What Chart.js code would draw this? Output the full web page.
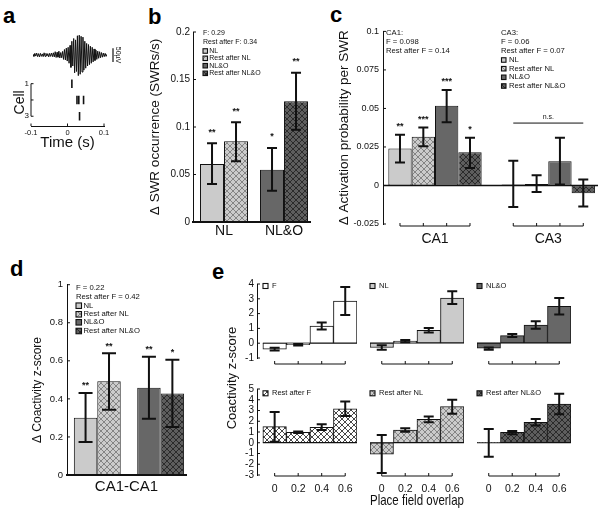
<!DOCTYPE html>
<html lang="en">
<head>
<meta charset="utf-8">
<title>SWR figure</title>
<script src="https://cdn.jsdelivr.net/npm/chart.js@4.4.1/dist/chart.umd.min.js"></script>
<style>
  html, body { margin: 0; padding: 0; background: #fff; }
  body { position: relative; width: 600px; height: 509px; overflow: hidden; }
  .tag { position: absolute; font: bold 22px/22px "Liberation Sans", Arial, sans-serif; color: #000; }
</style>
</head>
<body>
<div class="tag" style="left:3px;top:5px">a</div>
<div class="tag" style="left:148px;top:6px">b</div>
<div class="tag" style="left:330px;top:4px">c</div>
<div class="tag" style="left:10px;top:258px">d</div>
<div class="tag" style="left:212px;top:261px">e</div>
<script>
// ---- a: ripple trace (uV) and spike raster ----
const lfpStart = -0.1;   // s
const lfpStep = 0.0025;  // s between samples
const lfpUv = [
  2, -5, 6, -4, 7, -6, 5, -7, 6, -5, 4, -6, 8, -5, 6, -4, 5, -7, 6, -5, 7,
  -6, 8, -7, 12, -9, 10, -8, 14, -11, 9, -10, 13,
  -16, 20, -18, 25, -22, 28, -30, 35,
  -45, 50, -40, 60, -65, 55, -60, 70,
  -75, 72, -70, 68, -62, 65, -55, 50,
  -48, 42, -40, 38, -35, 32, -30, 28,
  -25, 22, -20, 18, -16, 14, -12, 12,
  -10, 9, -8, 7, -6, 6, -5, 3
];
const spikeCell = [1, 2, 2, 2, 3];
const spikeTime = [0.012, 0.026, 0.031, 0.044, 0.033];
const timeTicks = [-0.1, 0, 0.1];
const cellTicks = [1, 2, 3];

// ---- b: SWR occurrence ----
const condNames = ['NL', 'Rest after NL', 'NL&O', 'Rest after NL&O'];
const bGroups = ['NL', 'NL&O'];
const bMean = [0.061, 0.085, 0.055, 0.127];
const bLow = [0.040, 0.064, 0.033, 0.097];
const bHigh = [0.083, 0.105, 0.078, 0.157];
const bStars = ['**', '**', '*', '**'];
const bNotes = ['F: 0.29', 'Rest after F: 0.34'];
const bTicks = [0, 0.05, 0.1, 0.15, 0.2];

// ---- c: activation probability ----
const cGroups = ['CA1', 'CA3'];
const cMeanCA1 = [0.024, 0.0317, 0.0517, 0.0216];
const cLowCA1 = [0.0149, 0.0254, 0.041, 0.0114];
const cHighCA1 = [0.033, 0.0377, 0.062, 0.031];
const cStarsCA1 = ['**', '***', '***', '*'];
const cMeanCA3 = [0.0006, 0.001, 0.0157, -0.005];
const cLowCA3 = [-0.014, -0.0043, 0.0006, -0.0136];
const cHighCA3 = [0.016, 0.0066, 0.031, 0.0038];
const cNotesCA1 = ['CA1:', 'F = 0.098', 'Rest after F = 0.14'];
const cNotesCA3 = ['CA3:', 'F = 0.06', 'Rest after F = 0.07'];
const cTicks = [-0.025, 0, 0.025, 0.05, 0.075, 0.1];
const cNsLevel = 0.0405;

// ---- d: coactivity ----
const dMean = [0.301, 0.492, 0.459, 0.428];
const dLow = [0.174, 0.343, 0.296, 0.252];
const dHigh = [0.431, 0.640, 0.621, 0.605];
const dStars = ['**', '**', '**', '*'];
const dNotes = ['F = 0.22', 'Rest after F = 0.42'];
const dTicks = [0, 0.2, 0.4, 0.6, 0.8, 1];

// ---- e: coactivity vs place field overlap ----
const overlap = [0, 0.2, 0.4, 0.6];
const overlapLabels = ['0', '0.2', '0.4', '0.6'];
const eTopTicks = [-1, 0, 1, 2, 3, 4];
const eBottomTicks = [-3, -2, -1, 0, 1, 2, 3, 4, 5];
const eF = [-0.4, -0.1, 1.15, 2.85];
const eFLow = [-0.5, -0.15, 0.93, 1.9];
const eFHigh = [-0.3, -0.05, 1.4, 3.8];
const eNL = [-0.3, 0.12, 0.85, 3.0];
const eNLLow = [-0.45, 0.05, 0.7, 2.6];
const eNLHigh = [-0.15, 0.2, 1.0, 3.45];
const eNLO = [-0.35, 0.49, 1.2, 2.45];
const eNLOLow = [-0.45, 0.4, 0.95, 1.9];
const eNLOHigh = [-0.3, 0.6, 1.45, 3.0];
const eRestF = [1.5, 0.97, 1.44, 3.16];
const eRestFLow = [0.1, 0.9, 1.19, 2.5];
const eRestFHigh = [2.85, 1.05, 1.72, 3.84];
const eRestNL = [-1.06, 1.19, 2.19, 3.37];
const eRestNLLow = [-2.81, 1.03, 1.9, 2.69];
const eRestNLHigh = [0.72, 1.34, 2.44, 4.0];
const eRestNLO = [0.02, 0.97, 1.9, 3.6];
const eRestNLOLow = [-1.3, 0.78, 1.6, 2.66];
const eRestNLOHigh = [1.28, 1.1, 2.2, 4.56];

const FN = '"Liberation Sans Narrow", "Liberation Sans", Arial, sans-serif';
const FR = '"Liberation Sans", Arial, sans-serif';
const INK = '#111';

// crosshatch fill
function hatch(bg, fg) {
  const t = document.createElement('canvas');
  t.width = 6; t.height = 6;
  const g = t.getContext('2d');
  g.fillStyle = bg; g.fillRect(0, 0, 6, 6);
  g.strokeStyle = fg; g.lineWidth = 0.9;
  g.beginPath();
  g.moveTo(-1, -1); g.lineTo(7, 7);
  g.moveTo(7, -1); g.lineTo(-1, 7);
  g.stroke();
  return g.createPattern(t, 'repeat');
}
const LIGHT = '#cbcbcb', DARK = '#676767';
const fillF = '#ffffff', fillRestF = hatch('#ffffff', '#333');
const fillNL = LIGHT, fillRestNL = hatch(LIGHT, '#7c7c7c');
const fillNLO = DARK, fillRestNLO = hatch('#5e5e5e', '#262626');
const condFills = [fillNL, fillRestNL, fillNLO, fillRestNLO];
const pairOrder = [[0, 2], [1, 3]]; // plain bars, then the rest bars

function seg(ctx, x0, y0, x1, y1) { ctx.moveTo(x0, y0); ctx.lineTo(x1, y1); }

// error bars, stars, brackets, legends, inward ticks
function deco(spec) {
  return {
    id: 'deco',
    beforeDatasetsDraw(chart) {
      if (!spec.zero) return;
      const { ctx, chartArea: a, scales: { y } } = chart;
      const yy = y.getPixelForValue(0);
      let x0 = a.left, x1 = a.right;
      if (spec.zeroBars) {
        const bars = chart.getDatasetMeta(0).data;
        x0 = bars[0].x - bars[0].width / 2;
        x1 = bars[bars.length - 1].x + bars[bars.length - 1].width / 2;
      }
      ctx.save();
      ctx.strokeStyle = INK; ctx.lineWidth = spec.zero;
      ctx.beginPath(); seg(ctx, x0, yy, x1, yy); ctx.stroke();
      ctx.restore();
    },
    afterDatasetsDraw(chart) {
      const { ctx, chartArea: a, scales: { x, y } } = chart;
      ctx.save();
      ctx.strokeStyle = INK; ctx.fillStyle = INK;
      ctx.textAlign = 'center'; ctx.textBaseline = 'middle';

      (spec.err || []).forEach(e => {
        chart.getDatasetMeta(e.ds).data.forEach((bar, j) => {
          const hi = y.getPixelForValue(e.hi[j]), lo = y.getPixelForValue(e.lo[j]);
          ctx.lineWidth = 2;
          ctx.beginPath();
          seg(ctx, bar.x, hi, bar.x, lo);
          seg(ctx, bar.x - spec.cap, hi, bar.x + spec.cap, hi);
          seg(ctx, bar.x - spec.cap, lo, bar.x + spec.cap, lo);
          ctx.stroke();
          if (e.stars && e.stars[j]) {
            ctx.font = `bold 9px ${FR}`;
            ctx.fillText(e.stars[j], bar.x, hi - (spec.starGap || 8));
          }
        });
      });

      if (spec.bracket) {
        const metas = chart.data.datasets.map((d, i) => chart.getDatasetMeta(i).data);
        const groups = spec.bracket.byIndex
          ? metas[0].map((b, j) => metas.map(m => m[j].x))
          : [metas[0].map(b => b.x)];
        const yb = a.bottom + spec.bracket.gap;
        ctx.lineWidth = 1;
        ctx.beginPath();
        groups.forEach(xs => {
          seg(ctx, Math.min(...xs), yb, Math.max(...xs), yb);
          xs.forEach(xx => seg(ctx, xx, yb, xx, yb - 3));
        });
        ctx.stroke();
      }

      ctx.lineWidth = 1;
      ctx.beginPath();
      if (spec.yIn) y.ticks.forEach(t => { const p = y.getPixelForValue(t.value); seg(ctx, a.left, p, a.left + spec.yIn, p); });
      if (spec.xIn) x.ticks.forEach(t => { const p = x.getPixelForValue(t.value); seg(ctx, p, a.bottom, p, a.bottom - spec.xIn); });
      ctx.stroke();

      ctx.textAlign = 'left';
      (spec.notes || []).forEach(n => {
        ctx.font = `${n.size}px ${FR}`;
        n.lines.forEach((t, i) => ctx.fillText(t, n.x - spec.ox, n.y[i] - spec.oy));
      });

      if (spec.legend) {
        const L = spec.legend;
        ctx.font = `${L.fs}px ${FR}`;
        L.items.forEach((it, i) => {
          const lx = L.x - spec.ox, ly = L.y[i] - spec.oy;
          ctx.fillStyle = it.fill;
          ctx.fillRect(lx, ly - L.size / 2, L.size, L.size);
          ctx.lineWidth = 1.1;
          ctx.strokeRect(lx, ly - L.size / 2, L.size, L.size);
          ctx.fillStyle = INK;
          ctx.fillText(it.label, lx + L.size + L.gap, ly);
        });
      }

      if (spec.sideTitle) {
        const s = spec.sideTitle;
        ctx.fillStyle = INK;
        ctx.font = `${s.size}px ${FR}`;
        ctx.textAlign = 'center';
        ctx.translate(s.cx - spec.ox, s.cy - spec.oy);
        ctx.rotate(-Math.PI / 2);
        ctx.fillText(s.text, 0, 0);
        ctx.setTransform(1, 0, 0, 1, 0, 0);
      }

      if (spec.extra) spec.extra(ctx, chart);
      ctx.restore();
    }
  };
}

function axis(o) {
  return {
    type: 'linear', min: o.min, max: o.max, reverse: !!o.reverse, offset: false,
    afterBuildTicks: s => { s.ticks = o.ticks.map(v => ({ value: v })); },
    grid: { display: false, drawTicks: false, tickLength: 0 },
    border: { display: !!o.line, color: INK, width: o.line || 1 },
    ticks: {
      display: !!o.labels, autoSkip: false, maxRotation: 0, minRotation: 0,
      color: INK, padding: o.pad || 0,
      font: { family: FN, size: o.fs || 10 },
      callback: (v, i) => (o.labels ? o.labels[i] : '')
    },
    title: { display: false }
  };
}

// area = wanted chart area on the page, m = room around it for axes
function build(area, m, type, datasets, xs, ys, spec) {
  const w = area.r - area.l + m.l + m.r, h = area.b - area.t + m.t + m.b;
  const ox = area.l - m.l, oy = area.t - m.t;
  const cv = document.createElement('canvas');
  cv.width = w; cv.height = h;
  cv.style.cssText = `position:absolute;left:${ox}px;top:${oy}px;width:${w}px;height:${h}px`;
  document.body.appendChild(cv);
  spec.ox = ox; spec.oy = oy;
  xs.afterFit = s => { s.height = m.b; };
  ys.afterFit = s => { s.width = m.l; };
  if (spec.yTitle) {
    const t = spec.yTitle;
    ys.title = { display: true, text: t.text, color: INK, font: { family: FR, size: t.size },
      padding: { top: t.cx - ox - t.size * 0.6, bottom: 0 } };
  }
  if (spec.xTitle) {
    const t = spec.xTitle;
    xs.title = { display: true, text: t.text, color: INK, font: { family: t.family || FR, size: t.size },
      padding: { top: 0, bottom: area.b + m.b - t.cy - t.size * 0.6 } };
  }
  return new Chart(cv, {
    type,
    data: { datasets },
    options: {
      responsive: false, animation: false, devicePixelRatio: 1, events: [],
      layout: { padding: { left: 0, top: m.t, right: m.r, bottom: 0 } },
      plugins: { legend: { display: false }, tooltip: { enabled: false } },
      scales: { x: xs, y: ys }
    },
    plugins: [deco(spec)]
  });
}

function barSet(points, fills, catPct) {
  return { data: points, backgroundColor: fills, borderColor: INK, borderWidth: 1,
    borderSkipped: false, categoryPercentage: catPct, barPercentage: 1 };
}
const condLegend = condNames.map((n, k) => ({ label: n, fill: condFills[k] }));

// a: trace
build({ l: 33, t: 33, r: 107, b: 77 }, { l: 2, t: 2, r: 16, b: 2 }, 'line',
  [{ data: lfpUv.map((v, i) => ({ x: lfpStart + i * lfpStep, y: v })),
     borderColor: INK, borderWidth: 1, pointRadius: 0, tension: 0, fill: false }],
  axis({ min: -0.1, max: 0.1, ticks: [-0.1, 0.1] }),
  axis({ min: -80, max: 80, ticks: [-80, 80] }),
  { extra(ctx, chart) {
      const { chartArea: a, scales: { y } } = chart;
      const xb = a.right + 6;
      ctx.lineWidth = 1.2;
      ctx.beginPath(); seg(ctx, xb, y.getPixelForValue(-25), xb, y.getPixelForValue(25)); ctx.stroke();
      ctx.translate(xb + 4.5, y.getPixelForValue(0));
      ctx.rotate(Math.PI / 2);
      ctx.font = `7px ${FR}`; ctx.textAlign = 'center';
      ctx.fillText('50µV', 0, 0);
    } });

// a: raster
build({ l: 31, t: 76, r: 104, b: 126 }, { l: 20, t: 4, r: 8, b: 27 }, 'scatter',
  [{ data: spikeTime.map((t, i) => ({ x: t, y: spikeCell[i] })), pointStyle: 'line', rotation: 90,
     pointRadius: 4.2, borderColor: INK, backgroundColor: INK, borderWidth: 1.6 }],
  axis({ min: -0.1, max: 0.1, ticks: timeTicks, labels: timeTicks.map(String), fs: 7.5, pad: 2, line: 1 }),
  axis({ min: 0.7, max: 3.6, reverse: true, ticks: cellTicks,
         labels: cellTicks.map(v => (v === 2 ? '' : String(v))), fs: 8, pad: 2 }),
  { yTitle: { text: 'Cell', size: 14, cx: 20 }, xTitle: { text: 'Time (s)', size: 15, cy: 143, family: FN },
    yIn: 2.5, xIn: 2.5,
    extra(ctx, chart) {
      const { chartArea: a, scales: { y } } = chart;
      ctx.lineWidth = 1;
      ctx.beginPath(); seg(ctx, a.left, y.getPixelForValue(1), a.left, y.getPixelForValue(3)); ctx.stroke();
    } });

// b
build({ l: 193, t: 31, r: 310, b: 222 }, { l: 50, t: 8, r: 4, b: 22 }, 'bar',
  pairOrder.map(p => barSet(p.map((k, j) => ({ x: j + 1, y: bMean[k] })), p.map(k => condFills[k]), 0.8)),
  axis({ min: 0.483, max: 2.433, ticks: [1, 2], labels: bGroups, fs: 14, pad: 1, line: 2 }),
  axis({ min: 0, max: 0.2, ticks: bTicks, labels: bTicks.map(String), fs: 10, pad: 3, line: 1 }),
  { yTitle: { text: 'Δ SWR occurrence (SWRs/s)', size: 13.5, cx: 155 }, cap: 5, yIn: 3, starGap: 11,
    err: pairOrder.map((p, ds) => ({ ds, lo: p.map(k => bLow[k]), hi: p.map(k => bHigh[k]), stars: p.map(k => bStars[k]) })),
    notes: [{ size: 7, x: 203, y: [33.3, 41.7], lines: bNotes }],
    legend: { x: 203, y: [51, 58.3, 65.7, 73.3], size: 4.5, gap: 1.8, fs: 7, items: condLegend } });

// c
build({ l: 383, t: 30, r: 598, b: 224 }, { l: 52, t: 8, r: 2, b: 22 }, 'bar',
  condNames.map((n, s) => barSet([{ x: 1, y: cMeanCA1[s] }, { x: 2, y: cMeanCA3[s] }], condFills[s], 0.824)),
  axis({ min: 0.541, max: 2.439, ticks: [1, 2], labels: cGroups, fs: 14, pad: 7 }),
  axis({ min: -0.025, max: 0.1, ticks: cTicks, labels: cTicks.map(String), fs: 9, pad: 4, line: 1 }),
  { yTitle: { text: 'Δ Activation probability per SWR', size: 13.5, cx: 344 }, cap: 5, yIn: 3, zero: 1.5,
    bracket: { byIndex: true, gap: 2 },
    err: condNames.map((n, s) => ({ ds: s, lo: [cLowCA1[s], cLowCA3[s]], hi: [cHighCA1[s], cHighCA3[s]], stars: [cStarsCA1[s], ''] })),
    notes: [{ size: 7.7, x: 386, y: [32.7, 41.7, 51], lines: cNotesCA1 },
            { size: 7.7, x: 501, y: [32.7, 41.7, 51], lines: cNotesCA3 }],
    legend: { x: 501.5, y: [60, 68.7, 77.3, 86], size: 4.5, gap: 3, fs: 7.7, items: condLegend },
    extra(ctx, chart) {
      const y = chart.scales.y;
      const b0 = chart.getDatasetMeta(0).data[1], b3 = chart.getDatasetMeta(3).data[1];
      const yy = y.getPixelForValue(cNsLevel);
      ctx.lineWidth = 1;
      ctx.beginPath(); seg(ctx, b0.x, yy, b3.x, yy); ctx.stroke();
      ctx.font = `7px ${FR}`; ctx.textAlign = 'center';
      ctx.fillText('n.s.', (b0.x + b3.x) / 2, yy - 6);
    } });

// d
build({ l: 67, t: 283, r: 186, b: 475 }, { l: 38, t: 8, r: 4, b: 22 }, 'bar',
  pairOrder.map(p => barSet(p.map((k, j) => ({ x: j + 1, y: dMean[k] })), p.map(k => condFills[k]), 0.74)),
  axis({ min: 0.522, max: 2.4, ticks: [1, 2], line: 2 }),
  axis({ min: 0, max: 1, ticks: dTicks, labels: dTicks.map(String), fs: 9.5, pad: 4, line: 1 }),
  { sideTitle: { text: 'Δ Coactivity z-score', size: 12, cx: 38, cy: 390 }, xTitle: { text: 'CA1-CA1', size: 15, cy: 486.7 },
    cap: 7, yIn: 3, starGap: 7,
    err: pairOrder.map((p, ds) => ({ ds, lo: p.map(k => dLow[k]), hi: p.map(k => dHigh[k]), stars: p.map(k => dStars[k]) })),
    notes: [{ size: 7.7, x: 76, y: [287.7, 296.7], lines: dNotes }],
    legend: { x: 76, y: [305.7, 314.3, 322.3, 331], size: 5.5, gap: 2, fs: 7.7, items: condLegend } });

// e
const eRows = [
  { t: 283, b: 358, ticks: eTopTicks, gap: 6, legendY: 286 },
  { t: 389, b: 475, ticks: eBottomTicks, gap: 1, legendY: 393.3 }
];
const eCols = [{ l: 257, r: 357, min: -0.15 }, { l: 370, r: 464, min: -0.1 }, { l: 477, r: 571, min: -0.1 }];
const ePanels = [
  { row: 0, col: 0, name: 'F', fill: fillF, mean: eF, lo: eFLow, hi: eFHigh },
  { row: 0, col: 1, name: 'NL', fill: fillNL, mean: eNL, lo: eNLLow, hi: eNLHigh },
  { row: 0, col: 2, name: 'NL&O', fill: fillNLO, mean: eNLO, lo: eNLOLow, hi: eNLOHigh },
  { row: 1, col: 0, name: 'Rest after F', fill: fillRestF, mean: eRestF, lo: eRestFLow, hi: eRestFHigh },
  { row: 1, col: 1, name: 'Rest after NL', fill: fillRestNL, mean: eRestNL, lo: eRestNLLow, hi: eRestNLHigh },
  { row: 1, col: 2, name: 'Rest after NL&O', fill: fillRestNLO, mean: eRestNLO, lo: eRestNLOLow, hi: eRestNLOHigh }
];
ePanels.forEach(p => {
  const R = eRows[p.row], C = eCols[p.col];
  const first = p.col === 0, mid = p.col === 1, bottom = p.row === 1;
  // the bottom-left chart also carries the shared y title, so give it room above and to the left
  const m = first && bottom ? { l: 32, t: 75, r: 4, b: 22 }
                            : { l: first ? 16 : 2, t: 8, r: 4, b: bottom ? (mid ? 35 : 22) : 10 };
  build({ l: C.l, t: R.t, r: C.r, b: R.b }, m, 'bar',
    [barSet(overlap.map((v, i) => ({ x: v, y: p.mean[i] })), p.fill, 1)],
    axis({ min: C.min, max: 0.7, ticks: overlap, labels: bottom ? overlapLabels : null, fs: 10.5, pad: 8 }),
    axis({ min: R.ticks[0], max: R.ticks[R.ticks.length - 1], ticks: R.ticks,
           labels: first ? R.ticks.map(String) : null, fs: 10, pad: 3, line: first ? 1 : 0 }),
    { cap: 5, zero: 1, zeroBars: true, yIn: first ? 3 : 0, bracket: { gap: R.gap },
      err: [{ ds: 0, lo: p.lo, hi: p.hi }],
      legend: { x: C.l + (first ? 6 : 0), y: [R.legendY], size: 5, gap: 4, fs: 7.5, items: [{ label: p.name, fill: p.fill }] },
      sideTitle: first && bottom ? { text: 'Coactivity z-score', size: 13, cx: 232, cy: 378 } : null,
      xTitle: bottom && mid ? { text: 'Place field overlap', size: 14.5, cy: 500.7, family: FN } : null });
});
</script>
</body>
</html>
